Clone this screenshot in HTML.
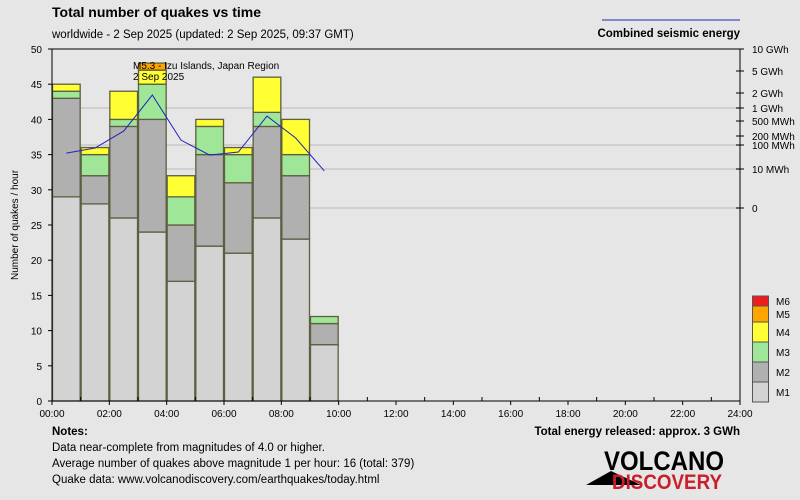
<!DOCTYPE html>
<html><head><meta charset="utf-8"><style>
body{margin:0;background:#e6e6e6;}
svg{display:block;font-family:"Liberation Sans","DejaVu Sans",sans-serif;}
</style></head><body>
<svg id="chart" width="800" height="500" viewBox="0 0 800 500">
<rect width="800" height="500" fill="#e6e6e6"/>
<text x="52" y="17" font-size="14" font-weight="bold" fill="#000">Total number of quakes vs time</text>
<text x="52" y="38" font-size="11.5" fill="#000">worldwide -  2 Sep 2025 (updated: 2 Sep 2025, 09:37 GMT)</text>
<line x1="602" y1="20" x2="740" y2="20" stroke="#2222bb" stroke-width="1"/>
<text x="740" y="37" font-size="11.5" font-weight="bold" text-anchor="end">Combined seismic energy</text>
<g id="grid"></g>
<g id="bars"></g>
<g id="energy"></g>
<g id="axes"></g>
<text transform="translate(18,225) rotate(-90)" font-size="10" text-anchor="middle">Number of quakes / hour</text>
<text x="133" y="69" font-size="10">M5.3 - Izu Islands, Japan Region</text>
<text x="133" y="80" font-size="10">2 Sep 2025</text>
<g id="legend"></g>
<text x="52" y="435" font-size="11.5" font-weight="bold">Notes:</text>
<text x="52" y="451" font-size="11.5">Data near-complete from magnitudes of 4.0 or higher.</text>
<text x="52" y="467" font-size="11.5">Average number of quakes above magnitude 1 per hour: 16 (total: 379)</text>
<text x="52" y="483" font-size="11.5">Quake data: www.volcanodiscovery.com/earthquakes/today.html</text>
<text x="740" y="435" font-size="11.5" font-weight="bold" text-anchor="end">Total energy released: approx. 3 GWh</text>
<g>
<polygon points="586,485 611,471 641,485" fill="#000"/>
<text x="604" y="470" font-size="27" font-weight="bold" fill="#000" textLength="120" lengthAdjust="spacingAndGlyphs">VOLCANO</text>
<text x="612" y="489" font-size="21" font-weight="bold" fill="#c8202a" textLength="110" lengthAdjust="spacingAndGlyphs">DISCOVERY</text>
</g>
</svg>
<script>
const hours=[0,1,2,3,4,5,6,7,8,9];
const m1=[29,28,26,24,17,22,21,26,23,8];
const m2=[14,4,13,16,8,13,10,13,9,3];
const m3=[1,3,1,5,4,4,4,2,3,1];
const m4=[1,1,4,2,3,1,1,5,5,0];
const m5=[0,0,0,1,0,0,0,0,0,0];
const m6=[0,0,0,0,0,0,0,0,0,0];
const energyMWh=[46,75,270,1820,145,38,51,650,171,9.5];
const yTicks=[0,5,10,15,20,25,30,35,40,45,50];
const xTickLabels=["00:00","02:00","04:00","06:00","08:00","10:00","12:00","14:00","16:00","18:00","20:00","22:00","24:00"];
const eTickVals=[0,10,100,200,500,1000,2000,5000,10000];
const eTickLabels=["0","10 MWh","100 MWh","200 MWh","500 MWh","1 GWh","2 GWh","5 GWh","10 GWh"];
const eTickPos=[208,169,145,136,121,108,93,71,49];
const magNames=["M1","M2","M3","M4","M5","M6"];
const magColors=["#d3d3d3","#b0b0b0","#a0e698","#ffff33","#ffa500","#ee1c1c"];

const NS="http://www.w3.org/2000/svg";
const X0=52,X1=740,Y0=401,Y1=49;
const xs=h=>X0+(X1-X0)*h/24;
const ys=v=>Y0-(Y0-Y1)*v/50;
function ye(e){
  if(e<=10) return eTickPos[0]+(eTickPos[1]-eTickPos[0])*e/10;
  for(let i=1;i<eTickVals.length-1;i++){
    if(e<=eTickVals[i+1]){
      const t=(Math.log10(e)-Math.log10(eTickVals[i]))/(Math.log10(eTickVals[i+1])-Math.log10(eTickVals[i]));
      return eTickPos[i]+(eTickPos[i+1]-eTickPos[i])*t;
    }
  }
  return eTickPos[eTickPos.length-1];
}
function mk(tag,attrs,parent){const el=document.createElementNS(NS,tag);for(const k in attrs)el.setAttribute(k,attrs[k]);parent.appendChild(el);return el;}
const grid=document.getElementById('grid'),bars=document.getElementById('bars'),en=document.getElementById('energy'),axes=document.getElementById('axes'),legend=document.getElementById('legend');

[0,10,100,1000].forEach(v=>{
  const l=mk('line',{x1:X0,x2:X1,y1:ye(v),y2:ye(v),stroke:'#d0d0d0','stroke-width':2},grid);
  
  
});

const series=[m1,m2,m3,m4,m5,m6];
hours.forEach((h,i)=>{
  let base=0;
  series.forEach((s,k)=>{
    const v=s[i]; if(v<=0) return;
    const r=mk('rect',{x:xs(h)+0.5,y:ys(base+v),width:xs(1)-X0-1,height:ys(base)-ys(base+v),fill:magColors[k],stroke:'#5e5e40','stroke-width':1.3},bars);
    
    
    base+=v;
  });
});

const pts=hours.map((h,i)=>(xs(h+0.5))+','+ye(energyMWh[i])).join(' ');
const pl=mk('polyline',{points:pts,fill:'none',stroke:'#2222bb','stroke-width':1},en);



const frame=mk('path',{d:`M${X0},${Y0}V${Y1}H${X1}V${Y0}H${X0}`,fill:'none',stroke:'#000','stroke-width':1},axes);


yTicks.forEach(v=>{
  mk('line',{x1:X0-4,x2:X0,y1:ys(v),y2:ys(v),stroke:'#000'},axes);
  const t=mk('text',{x:X0-10,y:ys(v)+4,'font-size':10,'text-anchor':'end'},axes);
  t.textContent=v;
  
  
});
for(let h=0;h<=24;h++){
  mk('line',{x1:xs(h),x2:xs(h),y1:Y0,y2:Y0+(h%2?-4:4),stroke:'#000'},axes);
}
xTickLabels.forEach((lab,i)=>{
  const t=mk('text',{x:xs(i*2),y:Y0+16,'font-size':10,'text-anchor':'middle'},axes);
  t.textContent=lab;
  
  
});
eTickVals.forEach((v,i)=>{
  mk('line',{x1:X1-4,x2:X1+4,y1:ye(v),y2:ye(v),stroke:'#000'},axes);
  const t=mk('text',{x:X1+12,y:ye(v)+4,'font-size':10},axes);
  t.textContent=eTickLabels[i];
  
  
});

const lh=[20,20,20,20,16,10];
let ly=402;
magNames.forEach((m,k)=>{
  const r=mk('rect',{x:752.5,y:ly-lh[k],width:16,height:lh[k],fill:magColors[k],stroke:'#555'},legend);
  
  
  const t=mk('text',{x:776,y:ly-lh[k]/2+4,'font-size':10},legend);
  t.textContent=m;
  
  
  ly-=lh[k];
});
</script>
</body></html>
